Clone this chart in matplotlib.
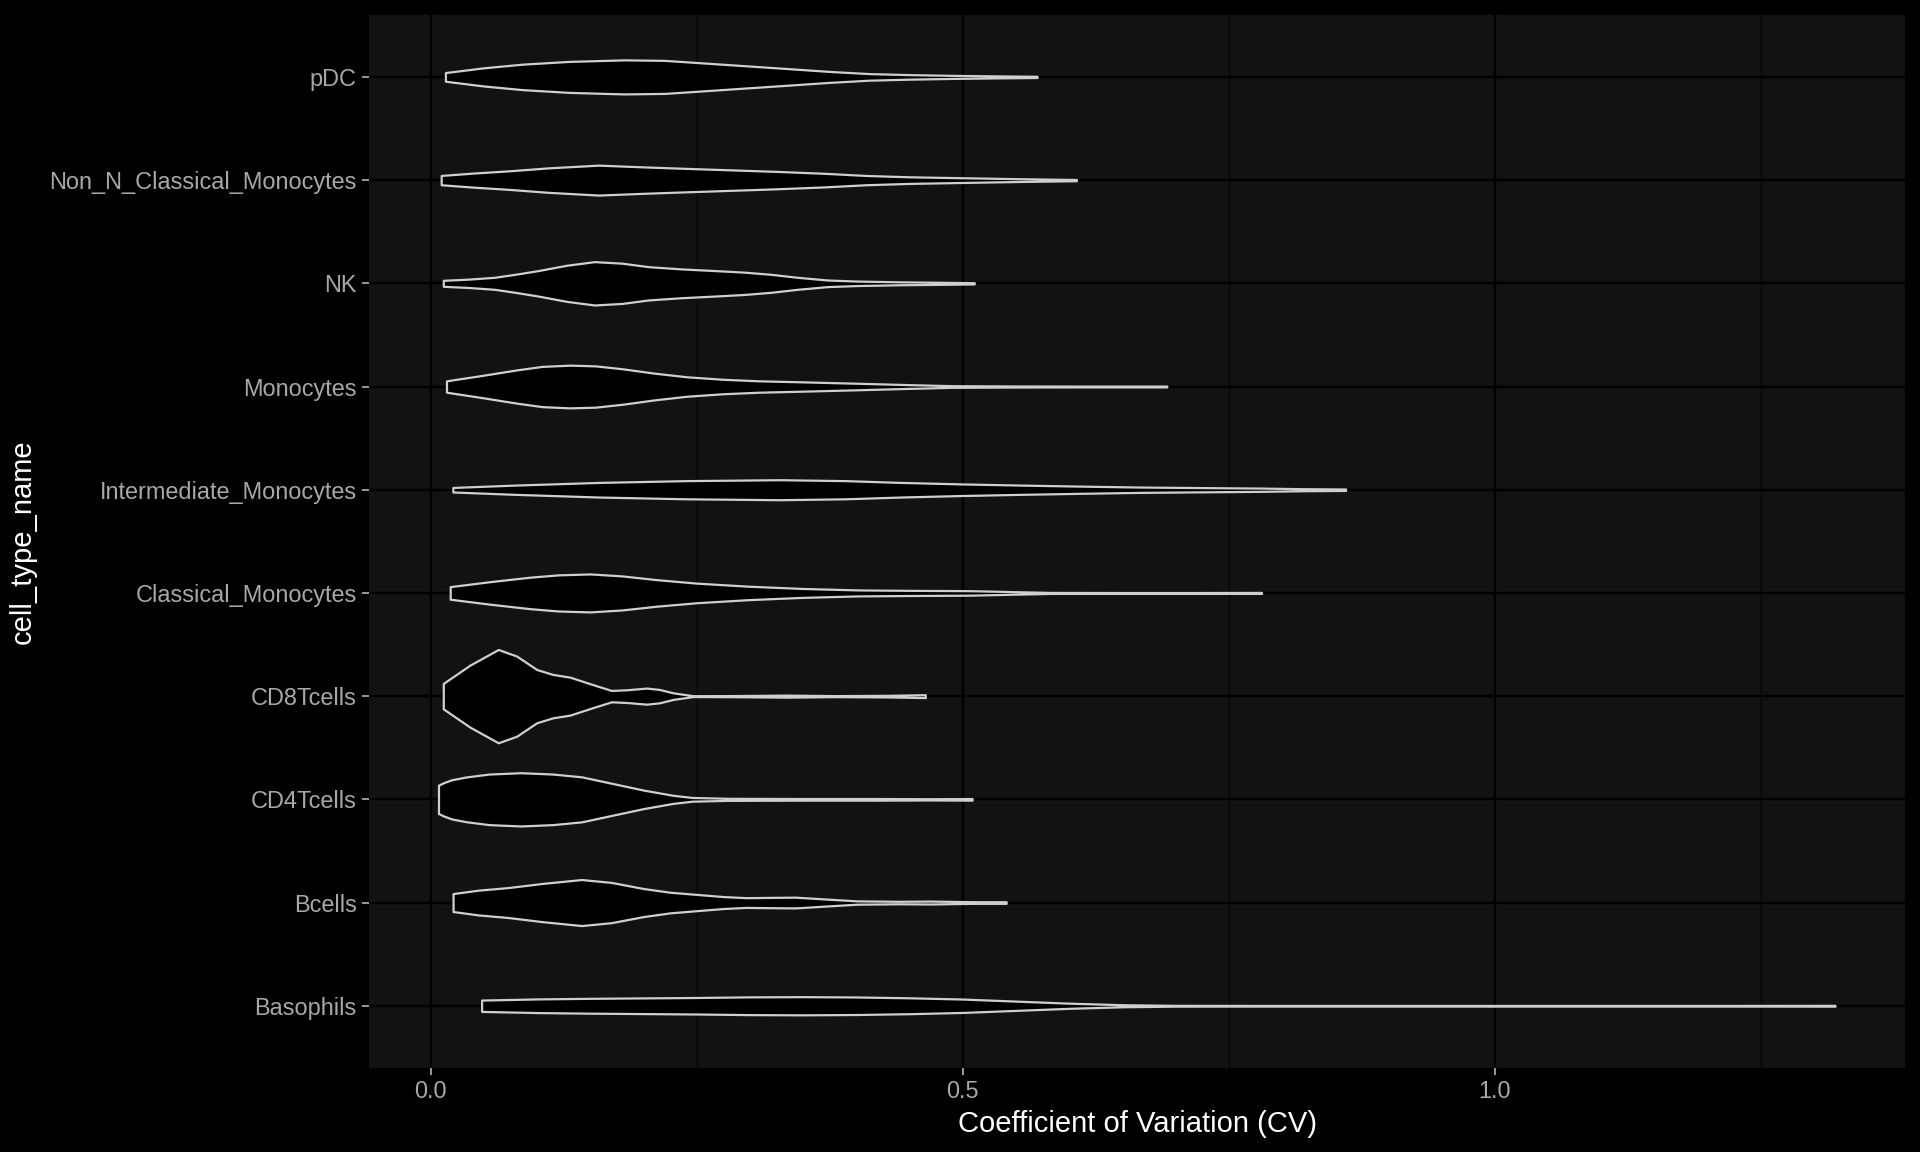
import matplotlib
matplotlib.use("Agg")
import matplotlib.pyplot as plt

# ===== Data =====
# categories bottom -> top
cell_types = ["Basophils", "Bcells", "CD4Tcells", "CD8Tcells", "Classical_Monocytes",
              "Intermediate_Monocytes", "Monocytes", "NK", "Non_N_Classical_Monocytes", "pDC"]

# violin outlines: CV positions and half-width (in category units, max 0.45)
baso_cv = [0.048, 0.1, 0.15, 0.2, 0.25, 0.3, 0.35, 0.4, 0.45, 0.5, 0.55, 0.6, 0.65, 0.70, 0.8, 1.0, 1.2, 1.32]
baso_hw = [0.055, 0.066, 0.072, 0.076, 0.080, 0.086, 0.088, 0.085, 0.077, 0.065, 0.045, 0.025, 0.010, 0.004, 0.003, 0.003, 0.003, 0.004]

bcell_cv = [0.0212, 0.045, 0.073, 0.105, 0.142, 0.17, 0.2, 0.225, 0.251, 0.275, 0.297, 0.32, 0.343, 0.37, 0.401, 0.44, 0.47, 0.51, 0.541]
bcell_hw = [0.087, 0.12, 0.145, 0.185, 0.223, 0.195, 0.136, 0.100, 0.078, 0.058, 0.047, 0.050, 0.052, 0.035, 0.016, 0.012, 0.014, 0.008, 0.008]

cd4_cv = [0.0075, 0.012, 0.02, 0.033, 0.055, 0.085, 0.115, 0.142, 0.171, 0.20, 0.228, 0.246, 0.28, 0.35, 0.42, 0.47, 0.509]
cd4_hw = [0.137, 0.16, 0.19, 0.216, 0.245, 0.258, 0.245, 0.218, 0.154, 0.09, 0.039, 0.018, 0.010, 0.008, 0.008, 0.006, 0.008]

cd8_cv = [0.012, 0.037, 0.0637, 0.081, 0.0998, 0.115, 0.131, 0.15, 0.170, 0.185, 0.203, 0.215, 0.228, 0.247, 0.29, 0.335, 0.38, 0.43, 0.465]
cd8_hw = [0.123, 0.30, 0.452, 0.388, 0.258, 0.21, 0.184, 0.12, 0.055, 0.062, 0.078, 0.065, 0.032, 0.004, 0.006, 0.010, 0.005, 0.008, 0.014]

classical_cv = [0.0185, 0.055, 0.093, 0.12, 0.150, 0.18, 0.212, 0.25, 0.299, 0.35, 0.402, 0.45, 0.506, 0.55, 0.583, 0.65, 0.72, 0.781]
classical_hw = [0.061, 0.108, 0.152, 0.175, 0.184, 0.165, 0.129, 0.095, 0.065, 0.043, 0.029, 0.025, 0.022, 0.012, 0.005, 0.004, 0.004, 0.005]

inter_cv = [0.021, 0.08, 0.159, 0.24, 0.328, 0.39, 0.441, 0.50, 0.554, 0.61, 0.666, 0.72, 0.779, 0.82, 0.860]
inter_hw = [0.022, 0.045, 0.071, 0.088, 0.097, 0.088, 0.071, 0.056, 0.045, 0.035, 0.026, 0.021, 0.016, 0.010, 0.007]

mono_cv = [0.015, 0.05, 0.081, 0.105, 0.131, 0.155, 0.181, 0.21, 0.241, 0.275, 0.309, 0.35, 0.40, 0.45, 0.491, 0.55, 0.62, 0.692]
mono_hw = [0.055, 0.110, 0.161, 0.195, 0.207, 0.200, 0.171, 0.130, 0.094, 0.070, 0.055, 0.045, 0.032, 0.018, 0.008, 0.005, 0.004, 0.004]

nk_cv = [0.012, 0.035, 0.060, 0.08, 0.101, 0.128, 0.154, 0.18, 0.205, 0.235, 0.268, 0.295, 0.32, 0.345, 0.373, 0.40, 0.442, 0.48, 0.511]
nk_hw = [0.029, 0.040, 0.058, 0.088, 0.123, 0.175, 0.210, 0.195, 0.161, 0.140, 0.123, 0.108, 0.087, 0.058, 0.032, 0.022, 0.014, 0.010, 0.006]

nonn_cv = [0.010, 0.04, 0.074, 0.11, 0.158, 0.20, 0.242, 0.28, 0.326, 0.37, 0.409, 0.45, 0.494, 0.55, 0.607]
nonn_hw = [0.045, 0.068, 0.090, 0.118, 0.145, 0.128, 0.113, 0.100, 0.084, 0.066, 0.045, 0.032, 0.024, 0.014, 0.006]

pdc_cv = [0.014, 0.05, 0.086, 0.13, 0.182, 0.22, 0.251, 0.29, 0.335, 0.375, 0.412, 0.45, 0.489, 0.53, 0.570]
pdc_hw = [0.042, 0.088, 0.123, 0.150, 0.165, 0.160, 0.139, 0.112, 0.081, 0.053, 0.032, 0.022, 0.015, 0.010, 0.006]

violins = [(baso_cv, baso_hw), (bcell_cv, bcell_hw), (cd4_cv, cd4_hw), (cd8_cv, cd8_hw),
           (classical_cv, classical_hw), (inter_cv, inter_hw), (mono_cv, mono_hw),
           (nk_cv, nk_hw), (nonn_cv, nonn_hw), (pdc_cv, pdc_hw)]

x_ticks = [0.0, 0.5, 1.0]
x_tick_labels = ["0.0", "0.5", "1.0"]
x_minor = [0.25, 0.75, 1.25]

# ===== Style =====
plt.rcParams["font.family"] = ["Liberation Sans", "DejaVu Sans"]

fig = plt.figure(figsize=(19.2, 11.52), dpi=100, facecolor="black")
ax = fig.add_axes([0.1922, 0.0732, 0.80, 0.9138])
ax.set_facecolor("#121212")

for pos, (cv, hw) in enumerate(violins, start=1):
    lo = [pos - h for h in hw]
    hi = [pos + h for h in hw]
    ax.fill_between(cv, lo, hi, facecolor="black", edgecolor="#CFCFCF",
                    linewidth=1.6, joinstyle="round", zorder=3)

ax.set_xlim(-0.0578, 1.3858)
ax.set_ylim(0.4, 10.6)
ax.set_yticks(range(1, len(cell_types) + 1))
ax.set_yticklabels(cell_types)
ax.set_xticks(x_ticks)
ax.set_xticklabels(x_tick_labels)
ax.set_xticks(x_minor, minor=True)

ax.grid(True, which="major", color="black", linewidth=1.7, zorder=0)
ax.grid(True, which="minor", axis="x", color="#050505", linewidth=0.9, zorder=0)
ax.set_axisbelow(True)

for s in ax.spines.values():
    s.set_visible(False)

ax.tick_params(axis="both", which="major", colors="#A6A6A6", labelcolor="#A8A8A8",
               labelsize=16.9, length=5, width=1.3, pad=4)
ax.tick_params(axis="x", which="minor", length=0)

ax.set_xlabel("Coefficient of Variation (CV)", color="white", fontsize=21, labelpad=5)
ax.set_ylabel("cell_type_name", color="white", fontsize=21, labelpad=9)

fig.savefig("out.png", dpi=100, facecolor="black")
